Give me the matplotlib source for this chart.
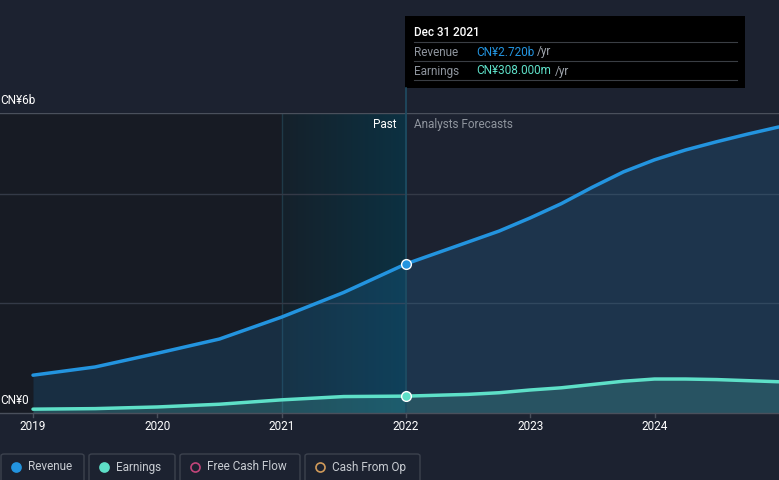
import numpy as np
import matplotlib
matplotlib.use("Agg")
import matplotlib.pyplot as plt
from matplotlib.patches import FancyBboxPatch, Rectangle
from matplotlib.lines import Line2D

plt.rcParams['font.family'] = ['Roboto', 'DejaVu Sans']

# datos (miles de millones CN¥)
years = [2019.0, 2019.5, 2020.0, 2020.5, 2021.0, 2021.5, 2022.0,
         2022.5, 2022.75, 2023.0, 2023.25, 2023.5, 2023.75,
         2024.0, 2024.25, 2024.5, 2024.75, 2025.0]
revenue = [0.69, 0.84, 1.09, 1.35, 1.75, 2.20, 2.72,
           3.12, 3.32, 3.56, 3.82, 4.12, 4.40,
           4.62, 4.80, 4.95, 5.09, 5.22]
earnings = [0.07, 0.08, 0.11, 0.16, 0.24, 0.30, 0.308,
            0.34, 0.37, 0.42, 0.46, 0.52, 0.58,
            0.62, 0.62, 0.61, 0.59, 0.57]
tick_years = [2019, 2020, 2021, 2022, 2023, 2024]
grid_vals = [2.0, 4.0]
legend_items = ["Revenue", "Earnings", "Free Cash Flow", "Cash From Op"]

bg = '#1c2230'
past_bg = '#171b24'
c_rev = '#2394df'
c_earn = '#5ee0c8'
c_fcf = '#c2457a'
c_cfo = '#d09a5a'

W, H = 779, 480
fig = plt.figure(figsize=(W / 100, H / 100), dpi=100, facecolor=bg)

# ejes: x=0..779 px, y 113..413 px
ax = fig.add_axes([0, (H - 413) / H, 1, 300 / H])
ax.set_facecolor(bg)
pxy = 124.3
x0 = 2019 - 33 / pxy
x1 = 2019 + (W - 33) / pxy
ytop = 300 / 54.8
ax.set_xlim(x0, x1)
ax.set_ylim(0, ytop)
for s in ax.spines.values():
    s.set_visible(False)
ax.set_xticks([])
ax.set_yticks([])

# zona pasada y banda resaltada
ax.axvspan(x0, 2021, color=past_bg, zorder=0, lw=0)
grad = np.linspace(0, 1, 256).reshape(1, -1)
cmap = matplotlib.colors.LinearSegmentedColormap.from_list('b', ['#15212b', '#0c3142'])
ax.imshow(grad, extent=[2021, 2022, 0, ytop], aspect='auto', cmap=cmap,
          interpolation='bilinear', zorder=0.5)
ax.axvline(2021, color='#1f3a48', lw=1, zorder=0.6)

for g in grid_vals:
    ax.axhline(g, color='#343a47', lw=1, zorder=1)
ax.axhline(ytop - 0.005, color='#4a505c', lw=1, zorder=1)

# series
ax.fill_between(years, revenue, 0, color=c_rev, alpha=0.16, lw=0, zorder=2)
ax.fill_between(years, earnings, 0, color=c_earn, alpha=0.18, lw=0, zorder=2.1)
ax.axvline(2022, color='#1f4d63', lw=1.2, zorder=2.5)
ax.plot(years, revenue, color=c_rev, lw=2.5, zorder=3, solid_capstyle='round')
ax.plot(years, earnings, color=c_earn, lw=2.5, zorder=3, solid_capstyle='round')
ax.plot([2022], [2.72], 'o', ms=7, mfc=c_rev, mec='white', mew=1, zorder=4)
ax.plot([2022], [0.308], 'o', ms=7, mfc=c_earn, mec='white', mew=1, zorder=4)

ax.text(2022 - 9 / pxy, ytop - 0.1, "Past", color='white', fontsize=8.5,
        ha='right', va='top', zorder=5)
ax.text(2022 + 8 / pxy, ytop - 0.1, "Analysts Forecasts", color='#8f959e',
        fontsize=8.5, ha='left', va='top', zorder=5)

# linea vertical del tooltip (parte de arriba)
fig.add_artist(Line2D([406 / W, 406 / W], [(H - 113) / H, (H - 88) / H],
                      color='#1f4d63', lw=1.2))

# eje x
fig.add_artist(Line2D([0, 1], [(H - 413) / H] * 2, color='#4a505c', lw=1))
for ty in tick_years:
    px = 33 + (ty - 2019) * pxy
    fig.add_artist(Line2D([px / W] * 2, [(H - 413) / H, (H - 417) / H],
                          color='#4a505c', lw=1))
    fig.text(px / W, (H - 426) / H, str(ty), color='white', fontsize=8.5,
             ha='center', va='center')

fig.text(0 / W, (H - 101) / H, "CN¥6b", color='white', fontsize=8.5,
         ha='left', va='center')
fig.text(0 / W, (H - 401) / H, "CN¥0", color='white', fontsize=8.5,
         ha='left', va='center')

# tooltip
fig.add_artist(Rectangle((405 / W, (H - 88) / H), 340 / W, 72 / H,
                         facecolor='black', edgecolor='none'))
fig.text(414 / W, (H - 33) / H, "Dec 31 2021", color='white', fontsize=8.5,
         ha='left', va='center', fontweight='medium')
for yy in [42, 61, 80]:
    fig.add_artist(Line2D([414 / W, 737 / W], [(H - yy) / H] * 2,
                          color='#3a3e44', lw=0.8))
fig.text(414 / W, (H - 52) / H, "Revenue", color='#8f959e', fontsize=8.5,
         ha='left', va='center')
fig.text(476 / W, (H - 52) / H, "CN¥2.720b", color=c_rev, fontsize=8.5,
         ha='left', va='center')
fig.text(537 / W, (H - 52) / H, "/yr", color='#a0a6ae', fontsize=8.5,
         ha='left', va='center')
fig.text(414 / W, (H - 71) / H, "Earnings", color='#8f959e', fontsize=8.5,
         ha='left', va='center')
fig.text(476 / W, (H - 71) / H, "CN¥308.000m", color=c_earn, fontsize=8.5,
         ha='left', va='center')
fig.text(555 / W, (H - 71) / H, "/yr", color='#a0a6ae', fontsize=8.5,
         ha='left', va='center')

# leyenda
boxes = [(1, 84), (89, 175), (180, 300), (305, 420)]
colors = [c_rev, c_earn, c_fcf, c_cfo]
filled = [True, True, False, False]
for (bx0, bx1), name, col, f in zip(boxes, legend_items, colors, filled):
    fig.add_artist(FancyBboxPatch((bx0 / W, (H - 484) / H), (bx1 - bx0) / W, 30 / H,
                                  boxstyle="round,pad=0,rounding_size=0.004",
                                  facecolor='none', edgecolor='#3c424e', lw=1))
    cy = (H - 467) / H
    fig.add_artist(Line2D([(bx0 + 15) / W], [cy], marker='o', ms=6.5,
                          mfc=col if f else 'none', mec=col, mew=1.2))
    fig.text((bx0 + 27) / W, cy, name, color='#c8ccd2', fontsize=8.5,
             ha='left', va='center')

fig.savefig("out.png", dpi=100, facecolor=bg)
